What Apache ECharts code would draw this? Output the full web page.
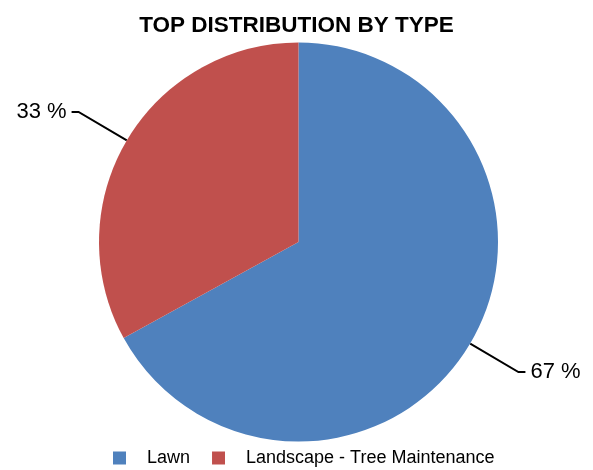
<!DOCTYPE html>
<html>
<head>
<meta charset="utf-8">
<script src="https://cdn.jsdelivr.net/npm/echarts@6/dist/echarts.min.js"></script>
<style>
html,body{margin:0;padding:0;background:#fff;}
#chart{width:593px;height:470px;}
</style>
</head>
<body>
<div id="chart"></div>
<script>
const categories = ['Lawn', 'Landscape - Tree Maintenance'];
const values = [67, 33];
const colors = ['#4F81BD', '#C0504D'];
const titleText = 'TOP DISTRIBUTION BY TYPE';

const chart = echarts.init(document.getElementById('chart'), null, {renderer: 'canvas'});
const FONT = '"Liberation Sans", Arial, sans-serif';
chart.setOption({
  animation: false,
  color: colors,
  title: {
    text: titleText,
    left: 'center',
    top: 9,
    textStyle: {fontFamily: FONT, fontSize: 22.5, fontWeight: 'bold', color: '#000'}
  },
  legend: {
    top: 444,
    left: 108,
    icon: 'rect',
    itemWidth: 13,
    itemHeight: 13,
    itemGap: 22,
    textStyle: {fontFamily: FONT, fontSize: 18, color: '#000', padding: [0, 0, 0, 16]},
    data: categories
  },
  series: [{
    type: 'pie',
    center: [298.5, 242],
    radius: 199.5,
    startAngle: 90,
    clockwise: true,
    label: {
      show: true,
      position: 'outside',
      formatter: '{d} %',
      fontFamily: FONT,
      fontSize: 22,
      color: '#000',
      distanceToLabelLine: 5
    },
    labelLine: {
      show: true,
      length: 56,
      length2: 7,
      lineStyle: {color: '#000', width: 2}
    },
    itemStyle: {borderWidth: 0},
    emphasis: {disabled: true},
    data: categories.map((c, i) => ({name: c, value: values[i]}))
  }]
});
</script>
</body>
</html>
